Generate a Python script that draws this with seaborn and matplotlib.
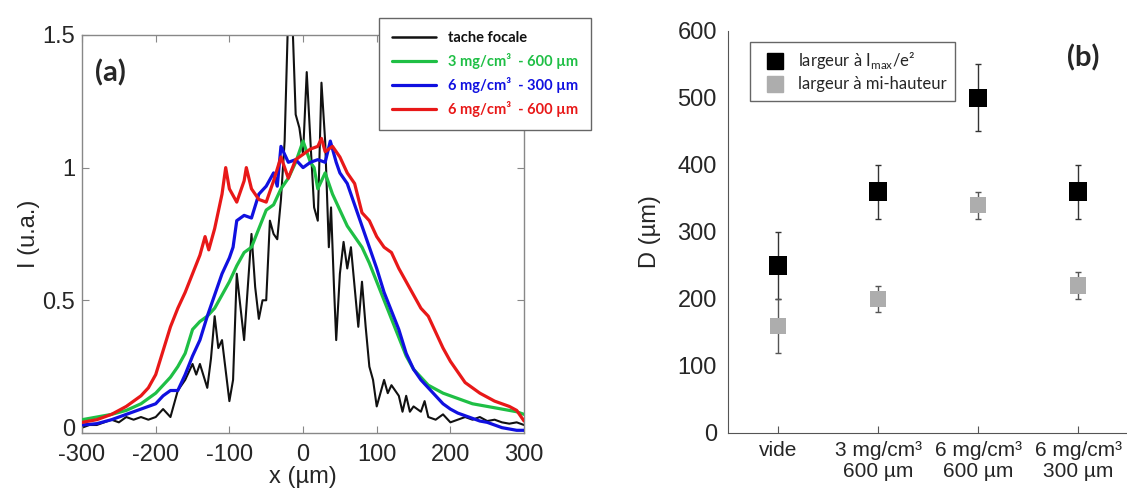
import matplotlib
matplotlib.use("Agg")
import matplotlib.pyplot as plt
import matplotlib.transforms as mtransforms
from matplotlib.lines import Line2D
import pandas as pd
import seaborn as sns

# ---- panel (a): profils d'intensite
black_x = [-300, -290, -280, -270, -260, -250, -240, -230, -220, -210, -200, -190, -180, -170,
           -160, -150, -145, -140, -130, -125, -120, -115, -110, -100, -95, -90, -80, -75, -70,
           -65, -60, -55, -50, -45, -40, -35, -30, -25, -20, -15, -10, -5, 0, 5, 10, 15, 20,
           25, 30, 35, 38, 42, 45, 50, 55, 60, 65, 70, 75, 80, 85, 90, 95, 100, 105, 110, 115,
           120, 130, 135, 140, 145, 150, 160, 165, 170, 180, 190, 200, 210, 220, 230, 240, 250,
           260, 270, 280, 290, 300]
black_y = [0.02, 0.03, 0.03, 0.04, 0.05, 0.04, 0.06, 0.05, 0.06, 0.05, 0.06, 0.09, 0.06, 0.16,
           0.20, 0.26, 0.22, 0.26, 0.17, 0.28, 0.44, 0.32, 0.35, 0.12, 0.20, 0.60, 0.35, 0.55, 0.75,
           0.55, 0.43, 0.50, 0.50, 0.80, 0.75, 0.73, 0.88, 1.10, 1.60, 1.60, 1.20, 1.15, 1.05, 1.36,
           1.10, 0.85, 0.80, 1.32, 1.10, 0.70, 0.85, 0.55, 0.35, 0.60, 0.72, 0.62, 0.70, 0.55, 0.40,
           0.57, 0.40, 0.25, 0.20, 0.10, 0.15, 0.20, 0.15, 0.18, 0.14, 0.08, 0.14, 0.08, 0.10, 0.08,
           0.12, 0.06, 0.05, 0.07, 0.04, 0.05, 0.06, 0.05, 0.06, 0.045, 0.05, 0.04, 0.035, 0.04, 0.03]

green_x = [-300, -280, -260, -240, -220, -210, -200, -190, -180, -170, -160, -150, -140, -130,
           -120, -110, -100, -90, -80, -70, -60, -50, -40, -30, -20, -10, 0, 10, 15, 20, 30, 40,
           50, 60, 70, 80, 90, 100, 110, 120, 130, 140, 150, 160, 170, 180, 190, 200, 210, 220,
           230, 240, 250, 260, 270, 280, 290, 300]
green_y = [0.05, 0.06, 0.07, 0.085, 0.11, 0.13, 0.15, 0.18, 0.21, 0.25, 0.30, 0.39, 0.42, 0.44,
           0.47, 0.52, 0.57, 0.63, 0.68, 0.70, 0.77, 0.84, 0.86, 0.92, 0.96, 1.02, 1.10, 1.02, 1.00,
           0.92, 0.98, 0.90, 0.84, 0.78, 0.74, 0.70, 0.64, 0.57, 0.50, 0.43, 0.36, 0.29, 0.24, 0.21,
           0.18, 0.165, 0.15, 0.14, 0.13, 0.12, 0.11, 0.105, 0.10, 0.095, 0.09, 0.085, 0.08, 0.07]

blue_x = [-300, -280, -260, -250, -240, -230, -220, -210, -200, -190, -180, -170, -160, -150,
          -140, -130, -120, -110, -100, -95, -90, -80, -70, -60, -50, -40, -35, -30, -20, -10, 0,
          10, 20, 30, 37, 45, 50, 60, 70, 80, 90, 100, 110, 120, 130, 140, 150, 160, 170, 180,
          190, 200, 210, 220, 230, 240, 250, 260, 270, 280, 290, 300]
blue_y = [0.03, 0.035, 0.05, 0.06, 0.07, 0.08, 0.09, 0.10, 0.11, 0.14, 0.16, 0.16, 0.22, 0.29,
          0.35, 0.44, 0.52, 0.60, 0.66, 0.70, 0.80, 0.82, 0.81, 0.90, 0.93, 0.98, 0.93, 1.08, 1.02,
          1.03, 1.00, 1.02, 1.03, 1.02, 1.10, 1.02, 0.98, 0.94, 0.86, 0.78, 0.70, 0.62, 0.53, 0.46,
          0.39, 0.30, 0.24, 0.20, 0.17, 0.14, 0.11, 0.09, 0.075, 0.065, 0.055, 0.045, 0.04, 0.03,
          0.02, 0.015, 0.01, 0.01]

red_x = [-300, -290, -280, -270, -260, -250, -240, -230, -220, -210, -200, -190, -180, -170,
         -160, -150, -140, -133, -128, -120, -110, -105, -100, -90, -80, -77, -70, -60, -50, -40,
         -30, -20, -10, 0, 10, 20, 25, 30, 40, 50, 60, 70, 80, 90, 100, 110, 120, 130, 140, 150,
         160, 170, 180, 190, 200, 210, 220, 230, 240, 250, 260, 270, 280, 290, 300]
red_y = [0.04, 0.045, 0.05, 0.06, 0.07, 0.085, 0.10, 0.12, 0.14, 0.17, 0.22, 0.31, 0.40, 0.47,
         0.53, 0.60, 0.67, 0.74, 0.69, 0.77, 0.90, 1.00, 0.92, 0.87, 0.95, 1.00, 0.92, 0.88, 0.87,
         0.95, 1.04, 0.96, 1.03, 1.05, 1.07, 1.08, 1.11, 1.06, 1.08, 1.04, 0.98, 0.94, 0.83, 0.80,
         0.74, 0.70, 0.68, 0.62, 0.57, 0.52, 0.47, 0.44, 0.38, 0.32, 0.27, 0.23, 0.19, 0.17, 0.15,
         0.135, 0.12, 0.11, 0.10, 0.085, 0.045]

series_names = ["tache focale", "3 mg/cm³  - 600 µm", "6 mg/cm³  - 300 µm", "6 mg/cm³  - 600 µm"]
series_colors = ["#111111", "#1fbf45", "#1010e0", "#e81818"]

# ---- panel (b): diametres
conditions = ["vide", "3 mg/cm³\n600 µm", "6 mg/cm³\n600 µm", "6 mg/cm³\n300 µm"]
d_e2 = [250, 360, 500, 360]
d_e2_err = [50, 40, 50, 40]
d_fwhm = [160, 200, 340, 220]
d_fwhm_err = [40, 20, 20, 20]

sns.set_style("ticks")
plt.rcParams["font.family"] = ["Liberation Sans", "DejaVu Sans"]
plt.rcParams["axes.unicode_minus"] = False

fig = plt.figure(figsize=(11.27, 4.92), dpi=100)
ax1 = fig.add_axes([0.0728, 0.12, 0.3922, 0.809])
ax2 = fig.add_axes([0.646, 0.12, 0.355, 0.817])

curves = [(black_x, black_y), (green_x, green_y), (blue_x, blue_y), (red_x, red_y)]
widths = [1.5, 2.3, 2.3, 2.3]
draw_order = [0, 3, 2, 1]
for i in draw_order:
    cx, cy = curves[i]
    df = pd.DataFrame({"x": cx, "I": cy})
    sns.lineplot(data=df, x="x", y="I", color=series_colors[i], linewidth=widths[i],
                 ax=ax1, estimator=None, sort=False, zorder=2 + i)

ax1.set_xlim(-300, 300)
ax1.set_ylim(0, 1.5)
ax1.set_xticks([-300, -200, -100, 0, 100, 200, 300])
ax1.set_yticks([0, 0.5, 1, 1.5])
ax1.set_yticklabels(["0", "0.5", "1", "1.5"])
ax1.tick_params(direction="in", top=True, right=True, labelsize=17, length=5,
                color="#888888", pad=3)
ax1.tick_params(axis="x", pad=8)
ax1.tick_params(axis="y", pad=5)
# nudge the "0" label up a little so it does not sit on "-300"
lab0 = ax1.get_yticklabels()[0]
lab0.set_transform(lab0.get_transform() +
                   mtransforms.ScaledTranslation(0, 4 / 72, fig.dpi_scale_trans))
for s in ax1.spines.values():
    s.set_color("#888888")
    s.set_linewidth(1.0)
ax1.set_xlabel("x (µm)", fontsize=17, labelpad=0)
ax1.set_ylabel("I (u.a.)", fontsize=17, labelpad=2)
ax1.text(0.065, 0.905, "(a)", transform=ax1.transAxes, fontsize=21, fontweight="bold",
         family="Lato", ha="center", va="center")

handles = [Line2D([], [], color=c, linewidth=2.3 if k else 1.8) for k, c in enumerate(series_colors)]
leg1 = fig.legend(handles, series_names, loc="upper left", bbox_to_anchor=(0.330, 0.978),
                  bbox_transform=fig.transFigure, frameon=True, fancybox=False,
                  edgecolor="#666666", framealpha=1, handlelength=3.0, handletextpad=0.8,
                  borderpad=0.9, labelspacing=0.55,
                  prop={"family": "Lato", "weight": "bold", "size": 10.5})
for txt, c in zip(leg1.get_texts(), series_colors):
    txt.set_color(c)

# panel (b)
dfb = pd.DataFrame({"cond": conditions * 2, "D": d_e2 + d_fwhm,
                    "type": ["e2"] * 4 + ["fwhm"] * 4})
ax2.errorbar(conditions, d_e2, yerr=d_e2_err, fmt="none", ecolor="#333333",
             elinewidth=1.0, capsize=2.5, zorder=2)
ax2.errorbar(conditions, d_fwhm, yerr=d_fwhm_err, fmt="none", ecolor="#555555",
             elinewidth=1.0, capsize=2.5, zorder=2)
sns.scatterplot(data=dfb[dfb["type"] == "e2"], x="cond", y="D", marker="s", s=180,
                color="black", edgecolor="none", ax=ax2, zorder=3)
sns.scatterplot(data=dfb[dfb["type"] == "fwhm"], x="cond", y="D", marker="s", s=140,
                color="#adadad", edgecolor="none", ax=ax2, zorder=3)

ax2.set_xlim(-0.5, 3.5)
ax2.set_ylim(0, 600)
ax2.set_yticks([0, 100, 200, 300, 400, 500, 600])
ax2.tick_params(axis="y", direction="in", labelsize=17, length=0, pad=8)
ax2.tick_params(axis="x", direction="in", labelsize=15, length=5, color="#555555", pad=6)
for t in ax2.get_xticklabels():
    t.set_linespacing(1.1)
ax2.spines["top"].set_visible(False)
ax2.spines["right"].set_visible(False)
ax2.spines["left"].set_color("#555555")
ax2.spines["bottom"].set_color("#555555")
ax2.set_xlabel("")
ax2.set_ylabel("D (µm)", fontsize=17, labelpad=12)
ax2.text(3.05, 560, "(b)", fontsize=21, fontweight="bold", family="Lato",
         ha="center", va="center")

hb = [Line2D([], [], marker="s", linestyle="none", color="black", markersize=11),
      Line2D([], [], marker="s", linestyle="none", color="#adadad", markersize=11)]
ax2.legend(hb, ["largeur à I$_\\mathregular{max}$/e²", "largeur à mi-hauteur"],
           loc="upper left", bbox_to_anchor=(0.033, 0.993), frameon=True, fancybox=False,
           edgecolor="#666666", framealpha=1, handletextpad=0.4, borderpad=0.5,
           labelspacing=0.3, prop={"family": "Lato", "size": 12})

fig.savefig("out.png", dpi=100)
